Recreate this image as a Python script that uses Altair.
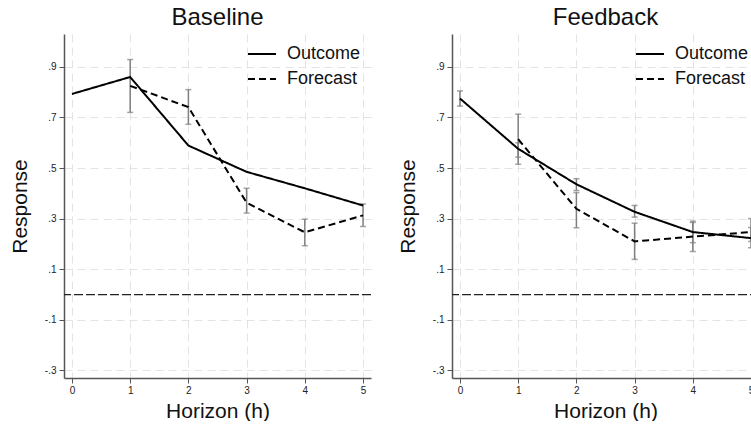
import altair as alt
import pandas as pd

horizon = [0, 1, 2, 3, 4, 5]
y_ticks = [-0.3, -0.1, 0.1, 0.3, 0.5, 0.7, 0.9]
series_names = ["Outcome", "Forecast"]

# Baseline panel
base_outcome = [0.793, 0.860, 0.589, 0.485, 0.420, 0.352]
base_fc_h = [1, 2, 3, 4, 5]
base_forecast = [0.825, 0.741, 0.363, 0.246, 0.313]
base_fc_lo = [0.720, 0.673, 0.322, 0.193, 0.269]
base_fc_hi = [0.929, 0.810, 0.420, 0.298, 0.358]
base_out_lo = []
base_out_hi = []

# Feedback panel
fb_outcome = [0.775, 0.576, 0.436, 0.327, 0.247, 0.223]
fb_out_lo = [0.745, 0.543, 0.411, 0.306, 0.205, 0.185]
fb_out_hi = [0.805, 0.600, 0.458, 0.352, 0.290, 0.265]
fb_fc_h = [1, 2, 3, 4, 5]
fb_forecast = [0.614, 0.339, 0.210, 0.229, 0.247]
fb_fc_lo = [0.515, 0.264, 0.139, 0.170, 0.210]
fb_fc_hi = [0.713, 0.403, 0.282, 0.285, 0.300]

FONT = "Liberation Sans"
ERR_COLOR = "#7f7f7f"

label_expr = ("datum.value < 0 ? '-' + substring(format(-datum.value, '.1f'), 1)"
              " : substring(format(datum.value, '.1f'), 1)")

x_enc_scale = alt.Scale(domain=[-0.137, 5.137], nice=False, zero=False)
y_enc_scale = alt.Scale(domain=[-0.33, 1.03], nice=False, zero=False)

x_axis = alt.Axis(values=horizon, format="d", title="Horizon (h)", grid=True,
                  gridDash=[8, 5], gridColor="#e3e3e3", tickSize=5, labelPadding=2,
                  titlePadding=5)
y_axis = alt.Axis(values=y_ticks, labelExpr=label_expr, title="Response", grid=True,
                  gridDash=[8, 5], gridColor="#e3e3e3", tickSize=5, labelPadding=3,
                  titlePadding=14)


def panel(title, outcome, fc_h, forecast, fc_lo, fc_hi, out_lo, out_hi):
    rows = [{"h": h, "v": v, "series": "Outcome"} for h, v in zip(horizon, outcome)]
    rows += [{"h": h, "v": v, "series": "Forecast"} for h, v in zip(fc_h, forecast)]
    lines_df = pd.DataFrame(rows)

    err_rows = [{"h": h, "lo": lo, "hi": hi} for h, lo, hi in zip(fc_h, fc_lo, fc_hi)]
    err_rows += [{"h": h, "lo": lo, "hi": hi} for h, lo, hi in zip(horizon, out_lo, out_hi)]
    err_df = pd.DataFrame(err_rows)
    cap_df = pd.DataFrame(
        [{"h": r["h"], "c": r["lo"]} for r in err_rows] + [{"h": r["h"], "c": r["hi"]} for r in err_rows]
    )

    zero = alt.Chart(pd.DataFrame({"z": [0.0]})).mark_rule(
        color="#222222", strokeDash=[9, 3], strokeWidth=1.3
    ).encode(y=alt.Y("z:Q", scale=y_enc_scale, axis=y_axis))

    bars = alt.Chart(err_df).mark_rule(color=ERR_COLOR, strokeWidth=1.5).encode(
        x=alt.X("h:Q", scale=x_enc_scale, axis=x_axis),
        y=alt.Y("lo:Q", scale=y_enc_scale, axis=y_axis),
        y2="hi:Q",
    )
    caps = alt.Chart(cap_df).mark_tick(color=ERR_COLOR, thickness=1.5, size=6,
                                       orient="horizontal").encode(
        x=alt.X("h:Q", scale=x_enc_scale, axis=x_axis),
        y=alt.Y("c:Q", scale=y_enc_scale, axis=y_axis),
    )

    lines = alt.Chart(lines_df).mark_line(color="black", strokeWidth=2).encode(
        x=alt.X("h:Q", scale=x_enc_scale, axis=x_axis),
        y=alt.Y("v:Q", scale=y_enc_scale, axis=y_axis),
        strokeDash=alt.StrokeDash(
            "series:N",
            scale=alt.Scale(domain=series_names, range=[[1, 0], [7, 4]]),
            legend=alt.Legend(title=None, orient="none", legendX=183, legendY=5, padding=0,
                              symbolType="stroke", symbolSize=784, symbolStrokeWidth=2,
                              symbolStrokeColor="black", labelFontSize=18, labelOffset=10,
                              rowPadding=1, labelFont=FONT, labelColor="#111111"),
        ),
    )

    return alt.layer(zero, bars, caps, lines).properties(
        width=307, height=344,
        title=alt.TitleParams(title, fontSize=24, font=FONT, fontWeight="normal",
                              color="#111111", offset=4),
    )


left = panel("Baseline", base_outcome, base_fc_h, base_forecast, base_fc_lo, base_fc_hi,
             base_out_lo, base_out_hi)
right = panel("Feedback", fb_outcome, fb_fc_h, fb_forecast, fb_fc_lo, fb_fc_hi,
              fb_out_lo, fb_out_hi)

chart = alt.hconcat(left, right, spacing=25).resolve_scale(
    strokeDash="independent"
).resolve_legend(strokeDash="independent").properties(
    padding={"left": 9, "top": 6, "right": -9, "bottom": 0}
).configure(
    font=FONT,
    background="white",
).configure_view(
    stroke=None
).configure_axis(
    labelFont=FONT, titleFont=FONT, labelFontSize=10, titleFontSize=21,
    titleFontWeight="normal", labelColor="#222222", titleColor="#111111",
    domainColor="#555555", domainWidth=1.5, tickColor="#555555", tickWidth=1,
)

chart.save("out.html", embed_options={"renderer": "svg", "actions": False})
